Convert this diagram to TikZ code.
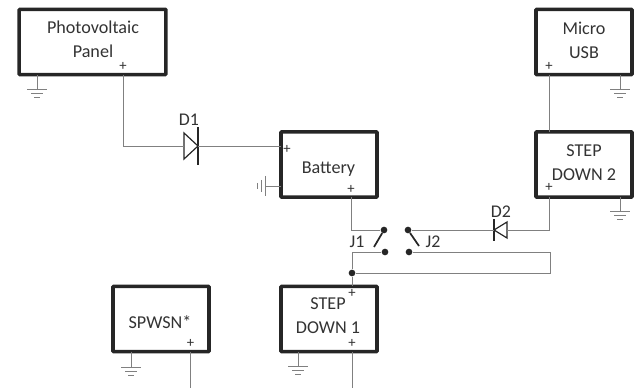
\documentclass[tikz,border=0pt]{standalone}
\usepackage{fontspec}
\usetikzlibrary{calc}
\setmainfont{Carlito}
\definecolor{wiregray}{HTML}{808080}
\definecolor{inkgray}{HTML}{333333}
\tikzset{
  block/.style={draw=black!85, line width=2.7pt, rounded corners=0.6pt, outer sep=0pt, inner sep=0pt,
    minimum width=72pt, minimum height=49pt},
  caption/.style={inner sep=0pt, align=center, text=inkgray, font=\fontsize{13.6}{17.6}\selectfont},
  wire/.style={draw=wiregray, line width=0.7pt},
  tag/.style={inner sep=0pt, text=inkgray, font=\fontsize{13.4}{15}\selectfont},
  plus/.style={inner sep=0pt, text=inkgray, font=\fontsize{11}{11}\selectfont},
  pin/.style={circle, fill=black!85, inner sep=0pt, minimum size=5pt},
  lever/.style={draw=black!85, line width=1.3pt},
  gndbar/.style={draw=wiregray, line width=0.7pt},
}
\begin{document}
\begin{tikzpicture}[x=0.75pt,y=-0.75pt]
      \useasboundingbox (0,0) rectangle (634,388);

      % Blocks
      \node[block, minimum width=110pt] (pv) at (92.5,42) {};
      \node[block] (usb) at (584,42) {};
      \node[block] (bat) at (329,164.5) {};
      \node[block] (stepb) at (584,164.5) {};
      \node[block] (spw) at (161,319) {};
      \node[block] (stepa) at (329,319) {};

      % Block texts
      \node[caption] (pvtext) at (93,39.5) {Photovoltaic\\Panel};
      \node[caption] (usbtext) at (584,40.5) {Micro\\USB};
      \node[caption] (battext) at (328.5,169) {Battery};
      \node[caption] (stepbtext) at (584,162.5) {STEP\\DOWN 2};
      \node[caption] (spwtext) at (160,322.5) {SPWSN*};
      \node[caption] (stepatext) at (328,315.5) {STEP\\DOWN 1};

      % Plus marks
      \node[plus] (pvp) at (123,66) {+};
      \node[plus] (usbp) at (549,66) {+};
      \node[plus] (batin) at (287,149) {+};
      \node[plus] (batout) at (351,189) {+};
      \node[plus] (stepbp) at (549,187) {+};
      \node[plus] (spwp) at (190.5,343) {+};
      \node[plus] (stepain) at (352,293) {+};
      \node[plus] (stepap) at (352,343) {+};

      % Grounds below the blocks
      \foreach \n/\x/\b/\y in {gpv/37/pv/89, gusb/620/usb/89, gstepb/620/stepb/211, gspw/131/spw/367, gstepa/298/stepa/366} {
          \coordinate (\n) at (\x,\y);
          \draw[wire] (\b.south -| \n) -- (\n);
          \draw[gndbar] ($(\n)+(-10,0)$) -- ($(\n)+(10,0)$);
          \draw[gndbar] ($(\n)+(-6,4)$) -- ($(\n)+(6,4)$);
          \draw[gndbar] ($(\n)+(-3,8)$) -- ($(\n)+(3,8)$);
        }

      % Ground left of the battery
      \coordinate (gbat) at (265,186);
      \draw[wire] (bat.west |- gbat) -- (gbat);
      \draw[gndbar] ($(gbat)+(0,-10)$) -- ($(gbat)+(0,10)$);
      \draw[gndbar] ($(gbat)+(-4,-6)$) -- ($(gbat)+(-4,6)$);
      \draw[gndbar] ($(gbat)+(-8,-3)$) -- ($(gbat)+(-8,3)$);

      % Diodes
      \coordinate (d1a) at (184,146);
      \coordinate (d1k) at (198,146);
      \draw[black!85, line width=0.9pt] ($(d1a)+(0,-13)$) -- (d1k) -- ($(d1a)+(0,13)$) -- cycle;
      \draw[black!85, line width=1.2pt] ($(d1k)+(0,-19)$) -- ($(d1k)+(0,19)$);
      \node[tag] (d1) at (189,120) {D1};

      \coordinate (d2a) at (507,230);
      \coordinate (d2k) at (494,230);
      \draw[black!85, line width=0.9pt] ($(d2a)+(0,-8)$) -- (d2k) -- ($(d2a)+(0,8)$) -- cycle;
      \draw[black!85, line width=1.2pt] ($(d2k)+(0,-11)$) -- ($(d2k)+(0,11)$);
      \node[tag] (d2) at (501,212) {D2};

      % Jumpers
      \node[pin] (j1a) at (384,230) {};
      \node[pin] (j1b) at (385,252) {};
      \node[pin] (j2a) at (408,230) {};
      \node[pin] (j2b) at (409,252) {};
      \node[pin] (tee) at (352,273) {};
      \coordinate (j1end) at (374,247);
      \coordinate (j2end) at (419,246);
      \draw[lever] (j1a) -- (j1end);
      \draw[lever] (j2a) -- (j2end);
      \node[tag] (j1) at (357,241.5) {J1};
      \node[tag] (j2) at (433,241.5) {J2};

      % Wires
      \coordinate (out1) at (352,388);
      \coordinate (out2) at (190.5,388);
      \coordinate (loop) at (550,273);
      \draw[wire] (pvp |- pv.south) |- (d1a);
      \draw[wire] (d1k) -- (bat.west |- d1k);
      \draw[wire] (usbp |- usb.south) -- (usbp |- stepb.north);
      \draw[wire] (stepbp |- stepb.south) |- (d2a);
      \draw[wire] (d2k) -- (j2a);
      \draw[wire] (batout |- bat.south) |- (j1a);
      \draw[wire] (j1b) -| (tee);
      \draw[wire] (tee) -- (tee |- stepa.north);
      \draw[wire] (j2b) -| (loop) -- (tee);
      \draw[wire] (stepap |- stepa.south) -- (out1);
      \draw[wire] (spwp |- spw.south) -- (out2);
    \end{tikzpicture}
\end{document}
